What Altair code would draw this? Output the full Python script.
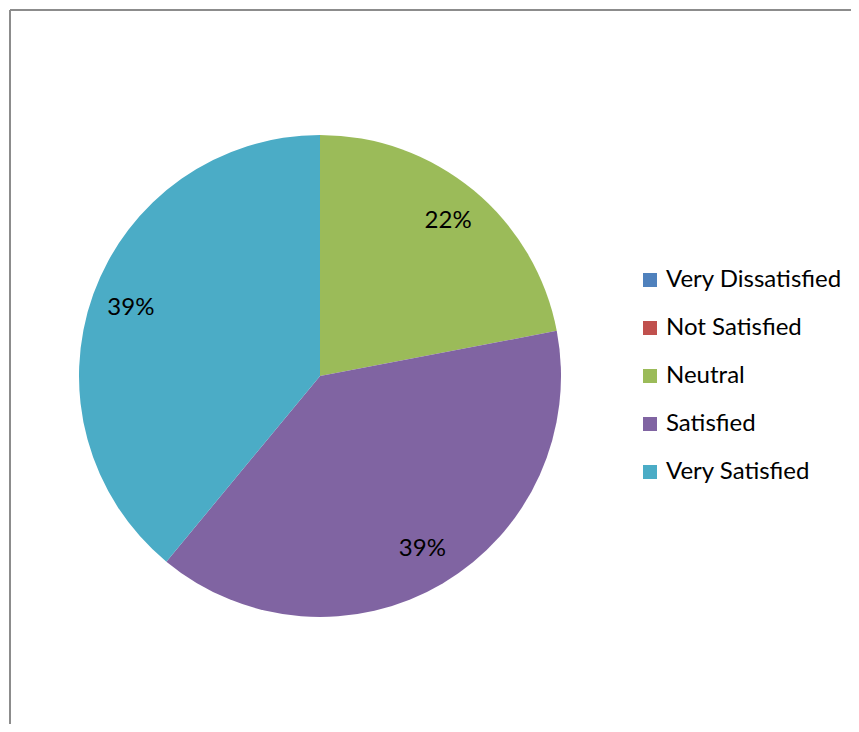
import altair as alt
import pandas as pd

categories = ["Very Dissatisfied", "Not Satisfied", "Neutral", "Satisfied", "Very Satisfied"]
values = [0, 0, 22, 39, 39]
colors = ["#4F81BD", "#C0504D", "#9BBB59", "#8064A2", "#4BACC6"]

df = pd.DataFrame({"category": categories, "value": values, "idx": list(range(len(categories)))})

W, H = 843, 716
CX, CY, R = 312, 368, 241
FONT = "Lato"

base = alt.Chart(df).encode(
    theta=alt.Theta("value:Q", stack=True),
    order=alt.Order("idx:Q"),
)

pie = base.mark_arc(radius=R, strokeWidth=0).encode(
    x=alt.value(CX),
    y=alt.value(CY),
    color=alt.Color(
        "category:N",
        sort=categories,
        scale=alt.Scale(domain=categories, range=colors),
        legend=alt.Legend(
            orient="none",
            legendX=630,
            legendY=260,
            title=None,
            symbolType="square",
            symbolSize=196,
            symbolStrokeWidth=0,
            labelFont=FONT,
            labelFontSize=24,
            labelColor="black",
            labelOffset=4,
            labelLimit=400,
            rowPadding=24,
            padding=0,
        ),
    ),
)

labels = (
    base.transform_joinaggregate(total="sum(value)")
    .transform_calculate(pct="datum.value / datum.total")
    .transform_filter("datum.value > 0")
    .mark_text(radius=201, font=FONT, fontSize=24, color="black")
    .encode(
        x=alt.value(CX),
        y=alt.value(CY),
        text=alt.Text("pct:Q", format=".0%"),
    )
)

frame_df = pd.DataFrame({"a": [0]})
top_rule = alt.Chart(frame_df).mark_rule(color="#8c8c8c", strokeWidth=2).encode(
    x=alt.value(2), x2=alt.value(W), y=alt.value(2)
)
left_rule = alt.Chart(frame_df).mark_rule(color="#8c8c8c", strokeWidth=2).encode(
    x=alt.value(2), y=alt.value(2), y2=alt.value(H)
)

chart = (
    alt.layer(pie, labels, top_rule, left_rule)
    .properties(width=W, height=H, autosize=alt.AutoSizeParams(type="none"), padding=0, background="white")
    .configure_view(stroke=None)
)

chart.save("out.html", embed_options={"renderer": "svg", "actions": False})
